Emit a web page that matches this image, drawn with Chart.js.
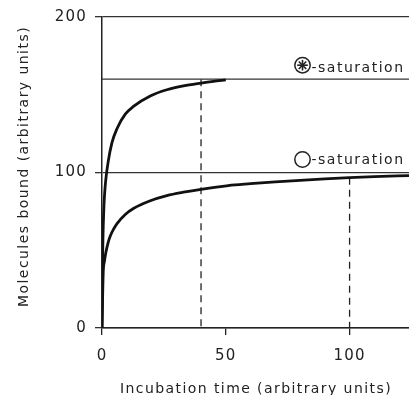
<!DOCTYPE html>
<html><head><meta charset="utf-8">
<script src="https://cdn.jsdelivr.net/npm/chart.js@4.4.0/dist/chart.umd.min.js"></script>
<style>html,body{margin:0;padding:0;background:#fff}#wrap{width:409px;height:395px}</style>
</head><body><div id="wrap"><canvas id="c" width="409" height="395"></canvas></div>
<script>
// Upper curve (⊛ binding)
const upperX = [0, 0.3, 0.7, 1, 1.5, 2.5, 4, 6, 9.4, 12.7, 19.5, 26.2, 32.9, 40, 45, 50];
const upperY = [0, 50, 75, 85, 95, 107, 119, 128, 137.5, 142.5, 149.2, 153.2, 155.7, 157.5, 158.6, 159.5];
// Lower curve (○ binding)
const lowerX = [0, 0.5, 1, 1.5, 2.5, 3.3, 5, 6, 9.4, 12.7, 19.5, 26.2, 32.9, 40, 51, 60, 70, 80, 90, 100, 110, 124];
const lowerY = [0, 36, 43, 48, 55, 59, 64.5, 67, 73, 76.8, 81.8, 85.1, 87.3, 89.2, 91.6, 92.8, 94, 95, 95.9, 96.7, 97.3, 98];
// Saturation levels and half-times
const saturationLevels = [160, 100];
const saturationLabels = ["-saturation", "-saturation"];
const dashTimes = [40, 100];
const dashTops = [160, 96.7];
const xTicks = [0, 50, 100];
const yTicks = [0, 100, 200];
const xTitle = "Incubation time (arbitrary units)";
const yTitle = "Molecules bound (arbitrary units)";
const X_MAX = 124;

const FONT = '"DejaVu Sans", "Liberation Sans", sans-serif';
const pts = (xs, ys) => xs.map((x, i) => ({x, y: ys[i]}));
const datasets = [
  {data: pts(upperX, upperY), borderColor: '#111', borderWidth: 2.8, cubicInterpolationMode: 'monotone'},
  {data: pts(lowerX, lowerY), borderColor: '#111', borderWidth: 2.8, cubicInterpolationMode: 'monotone'},
  {data: [{x: 0, y: saturationLevels[0]}, {x: X_MAX, y: saturationLevels[0]}], borderColor: '#333', borderWidth: 1.3},
];
dashTimes.forEach((t, i) => datasets.push({
  data: [{x: t, y: dashTops[i]}, {x: t, y: 0}], borderColor: '#222', borderWidth: 1.3, borderDash: [7, 5]
}));

function fitText(ctx, text, font, target) {
  ctx.font = font;
  ctx.letterSpacing = '0px';
  const w = ctx.measureText(text).width;
  const sp = (target - w) / text.length;
  ctx.letterSpacing = sp.toFixed(2) + 'px';
}

const textPlugin = {
  id: 'texts',
  beforeDraw(chart) { chart.ctx.letterSpacing = '1.2px'; },
  afterDraw(chart) {
    const ctx = chart.ctx, ys = chart.scales.y;
    ctx.save();
    ctx.fillStyle = '#222';
    ctx.strokeStyle = '#222';
    ctx.textBaseline = 'alphabetic';
    // saturation labels
    const baseOff = [7.5, 9];
    const circOff = [14, 13];
    saturationLevels.forEach((lvl, i) => {
      const py = ys.getPixelForValue(lvl);
      const cy = py - circOff[i], cx = 302.5;
      ctx.lineWidth = 1.5;
      ctx.beginPath(); ctx.arc(cx, cy, 7.7, 0, Math.PI * 2); ctx.stroke();
      if (i === 0) {
        ctx.lineWidth = 1.6;
        for (let k = 0; k < 4; k++) {
          const a = k * Math.PI / 4;
          ctx.beginPath();
          ctx.moveTo(cx + Math.cos(a) * 5.3, cy + Math.sin(a) * 5.3);
          ctx.lineTo(cx - Math.cos(a) * 5.3, cy - Math.sin(a) * 5.3);
          ctx.stroke();
        }
      }
      ctx.textAlign = 'left';
      fitText(ctx, saturationLabels[i], '14px ' + FONT, 93);
      ctx.fillText(saturationLabels[i], 311.5, py - baseOff[i]);
    });
    // x title
    ctx.textAlign = 'center';
    fitText(ctx, xTitle, '14px ' + FONT, 272);
    ctx.fillText(xTitle, 256, 393);
    // y title
    ctx.save();
    ctx.translate(27.5, 167.5);
    ctx.rotate(-Math.PI / 2);
    fitText(ctx, yTitle, '14px ' + FONT, 281);
    ctx.fillText(yTitle, 1, 0);
    ctx.restore();
    ctx.restore();
  }
};

new Chart(document.getElementById('c'), {
  type: 'line',
  data: {datasets},
  plugins: [textPlugin],
  options: {
    responsive: false,
    animation: false,
    devicePixelRatio: 1,
    layout: {padding: {top: 16, right: 0, left: 0, bottom: 0}},
    plugins: {legend: {display: false}, tooltip: {enabled: false}},
    elements: {point: {radius: 0}, line: {fill: false}},
    scales: {
      x: {
        type: 'linear', min: 0, max: X_MAX,
        afterFit(s) { s.height = 67; },
        afterBuildTicks(s) { s.ticks = xTicks.map(v => ({value: v})); },
        grid: {drawOnChartArea: false, drawTicks: true, tickLength: 7, color: '#222', lineWidth: 1.3},
        border: {display: true, color: '#222', width: 1.5},
        ticks: {color: '#222', padding: 12, font: {size: 15, family: FONT}, maxRotation: 0},
        title: {display: false}
      },
      y: {
        type: 'linear', min: 0, max: 200,
        afterFit(s) { s.width = 102; },
        afterBuildTicks(s) { s.ticks = yTicks.map(v => ({value: v})); },
        grid: {drawOnChartArea: true, drawTicks: true, tickLength: 7, color: '#333', lineWidth: 1.3},
        border: {display: true, color: '#222', width: 1.5},
        ticks: {color: '#222', padding: 8, font: {size: 15, family: FONT}},
        title: {display: false}
      }
    }
  }
});
</script></body></html>
